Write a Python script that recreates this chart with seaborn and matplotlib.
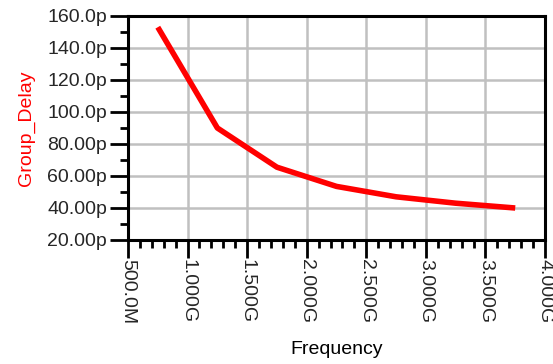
import matplotlib
matplotlib.use("Agg")
import matplotlib.pyplot as plt
import seaborn as sns
import pandas as pd
from matplotlib.ticker import MultipleLocator

freq_ghz = [0.75, 1.25, 1.75, 2.25, 2.75, 3.25, 3.75]
group_delay_ps = [153.0, 90.0, 65.5, 53.5, 47.0, 43.0, 40.0]

x_ticks = [0.5, 1.0, 1.5, 2.0, 2.5, 3.0, 3.5, 4.0]
x_tick_labels = ["500.0M", "1.000G", "1.500G", "2.000G", "2.500G", "3.000G", "3.500G", "4.000G"]
y_ticks = [20, 40, 60, 80, 100, 120, 140, 160]
y_tick_labels = ["20.00p", "40.00p", "60.00p", "80.00p", "100.0p", "120.0p", "140.0p", "160.0p"]

sns.set_style("white")
plt.rcParams["font.family"] = ["Liberation Sans", "DejaVu Sans"]

df = pd.DataFrame({"Frequency": freq_ghz, "Group_Delay": group_delay_ps})

fig = plt.figure(figsize=(5.53, 3.64), dpi=100)
ax = fig.add_axes([128/553, 1-240/364, (545-128)/553, (240-16)/364])

sns.lineplot(data=df, x="Frequency", y="Group_Delay", ax=ax, color="#ff0000",
             linewidth=4.0, solid_capstyle="butt", zorder=3)

ax.set_xlim(0.5, 4.0)
ax.set_ylim(20, 160)
ax.set_xticks(x_ticks)
ax.set_xticklabels(x_tick_labels, rotation=-90, fontsize=14, va="top", ha="center")
ax.set_yticks(y_ticks)
ax.set_yticklabels(y_tick_labels, fontsize=14)
ax.xaxis.set_minor_locator(MultipleLocator(0.1))
ax.yaxis.set_minor_locator(MultipleLocator(10))

ax.tick_params(axis="both", which="major", direction="out", length=13, width=2, color="black", pad=2)
ax.tick_params(axis="x", which="major", pad=1)
ax.tick_params(axis="both", which="minor", direction="out", length=6, width=2, color="black")
ax.tick_params(axis="both", which="both", bottom=True, left=True)

ax.grid(True, which="major", color="#c0c0c0", linewidth=1.8, zorder=0)
for s in ax.spines.values():
    s.set_visible(True)
    s.set_color("black")
    s.set_linewidth(2.2)

ax.set_xlabel("Frequency", fontsize=14, color="black", labelpad=12)
ax.set_ylabel("Group_Delay", fontsize=14, color="#ff0000", labelpad=9)

fig.savefig("out.png", dpi=100, facecolor="white")
